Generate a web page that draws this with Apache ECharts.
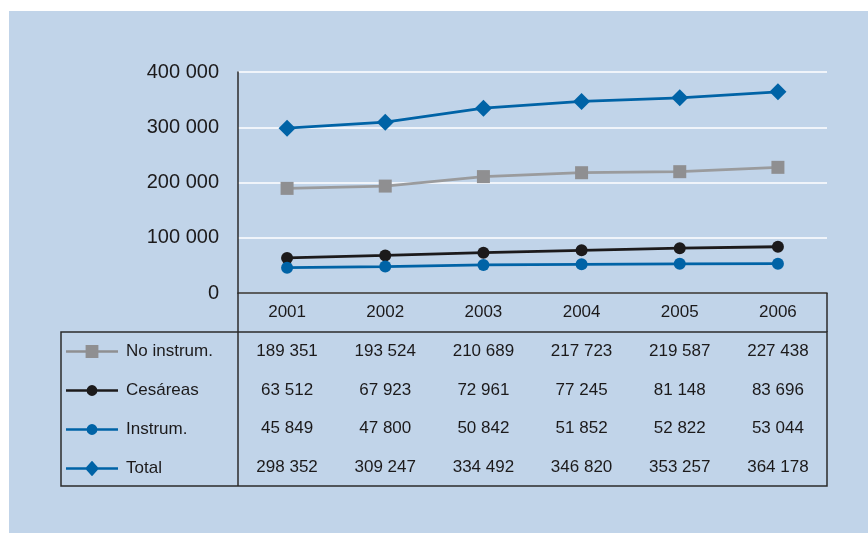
<!DOCTYPE html>
<html>
<head>
<meta charset="utf-8">
<style>
  html, body { margin: 0; padding: 0; background: #ffffff; }
  #chart { width: 868px; height: 533px; }
</style>
<script src="https://cdn.jsdelivr.net/npm/echarts@6/dist/echarts.min.js"></script>
</head>
<body>
<div id="chart"></div>
<script>
// Births by type of delivery, 2001-2006
const years = ['2001', '2002', '2003', '2004', '2005', '2006'];
const noInstrum = [189351, 193524, 210689, 217723, 219587, 227438];
const cesareas = [63512, 67923, 72961, 77245, 81148, 83696];
const instrum = [45849, 47800, 50842, 51852, 52822, 53044];
const total = [298352, 309247, 334492, 346820, 353257, 364178];
const yTicks = [0, 100000, 200000, 300000, 400000];

const INK = '#1c1a1b';
const BLUE = '#0063A6';
const GREY = '#9A9B9D';
const PANEL = '#C1D4E9';
const FONT = '"Liberation Sans", Arial, Helvetica, sans-serif';

// thousands separated by a space
const fmt = v => String(v).replace(/\B(?=(\d{3})+(?!\d))/g, ' ');

// legend keys: a line across the key with the series marker in the middle
// (extra moveTo points pin the key box to 52 x 16; every sub-path is
// drawn clockwise so the shapes merge instead of cutting holes)
const LINE_KEY = 'M0 6.7 H52 V9.3 H0 Z M26 0 M26 16 ';
const keyIcons = {
  rect: 'path://' + LINE_KEY + 'M19.6 1.6 H32.4 V14.4 H19.6 Z',
  circle: 'path://' + LINE_KEY + 'M20.6 8 A5.4 5.4 0 1 1 31.4 8 A5.4 5.4 0 1 1 20.6 8 Z',
  diamond: 'path://' + LINE_KEY + 'M26 0.2 L33 8 L26 15.8 L19 8 Z'
};

const rows = [
  { name: 'No instrum.', data: noInstrum, color: GREY, symbol: 'rect', size: 13, markerColor: '#8F8F91' },
  { name: 'Cesáreas', data: cesareas, color: INK, symbol: 'circle', size: 12, markerColor: INK },
  { name: 'Instrum.', data: instrum, color: BLUE, symbol: 'circle', size: 12, markerColor: BLUE },
  { name: 'Total', data: total, color: BLUE, symbol: 'diamond', size: 17, markerColor: BLUE }
];

const grid = { left: 238, right: 41, top: 72, bottom: 240 };
const tableLeft = 61, tableRight = 827, headerBottom = 332, tableBottom = 486;
const rowY = [351, 390, 428, 467];

const chart = echarts.init(document.getElementById('chart'), null, { renderer: 'canvas' });

chart.setOption({
  animation: false,
  textStyle: { fontFamily: FONT },
  grid: grid,
  legend: {
    orient: 'vertical',
    left: 66,
    top: 343,
    padding: 0,
    itemWidth: 52,
    itemHeight: 16,
    itemGap: 22,
    symbolKeepAspect: true,
    data: rows.map(r => ({
      name: r.name,
      icon: keyIcons[r.symbol],
      itemStyle: { color: r.markerColor }
    })),
    textStyle: { color: INK, fontSize: 17, fontFamily: FONT, lineHeight: 16, padding: [0, 0, 0, 3] },
    selectedMode: false
  },
  xAxis: {
    type: 'category',
    data: years,
    boundaryGap: true,
    axisLine: { lineStyle: { color: '#2b2b2b', width: 1.5 } },
    axisTick: { show: false },
    axisLabel: { color: INK, fontSize: 17, margin: 11, fontFamily: FONT }
  },
  yAxis: {
    type: 'value',
    min: 0,
    max: 400000,
    interval: 100000,
    axisLine: { show: true, lineStyle: { color: '#2b2b2b', width: 1.5 } },
    axisTick: { show: false },
    splitLine: { show: true, lineStyle: { color: '#ffffff', width: 1.5 } },
    axisLabel: {
      color: INK, fontSize: 20, margin: 19, fontFamily: FONT,
      formatter: v => yTicks.includes(v) ? fmt(v) : ''
    }
  },
  series: rows.map(r => ({
    name: r.name,
    type: 'line',
    data: r.data,
    symbol: r.symbol,
    symbolSize: r.size,
    lineStyle: { color: r.color, width: 2.8 },
    itemStyle: { color: r.markerColor },
    z: r.name === 'Total' ? 4 : 3
  }))
});

// Data table under the plot: frame lines plus one cell per value,
// columns aligned with the category axis
function drawTable() {
  const els = [
    { type: 'rect', z: -10, silent: true,
      shape: { x: 9, y: 11, width: 868 - 9, height: 533 - 11 },
      style: { fill: PANEL } },
    { type: 'rect', z: 10, silent: true,
      shape: { x: tableLeft, y: headerBottom, width: tableRight - tableLeft, height: tableBottom - headerBottom },
      style: { fill: 'none', stroke: '#2b2b2b', lineWidth: 1.5 } },
    { type: 'line', z: 10, silent: true,
      shape: { x1: grid.left, y1: 293, x2: grid.left, y2: tableBottom },
      style: { stroke: '#2b2b2b', lineWidth: 1.5 } },
    { type: 'line', z: 10, silent: true,
      shape: { x1: tableRight, y1: 293, x2: tableRight, y2: headerBottom },
      style: { stroke: '#2b2b2b', lineWidth: 1.5 } }
  ];
  rows.forEach((r, i) => {
    r.data.forEach((v, j) => {
      const x = chart.convertToPixel({ xAxisIndex: 0 }, j);
      els.push({
        type: 'text', z: 10, silent: true,
        x: x, y: rowY[i],
        style: {
          text: fmt(v), fill: INK, font: '17px ' + FONT,
          align: 'center', verticalAlign: 'middle'
        }
      });
    });
  });
  chart.setOption({ graphic: els });
}
drawTable();
</script>
</body>
</html>
